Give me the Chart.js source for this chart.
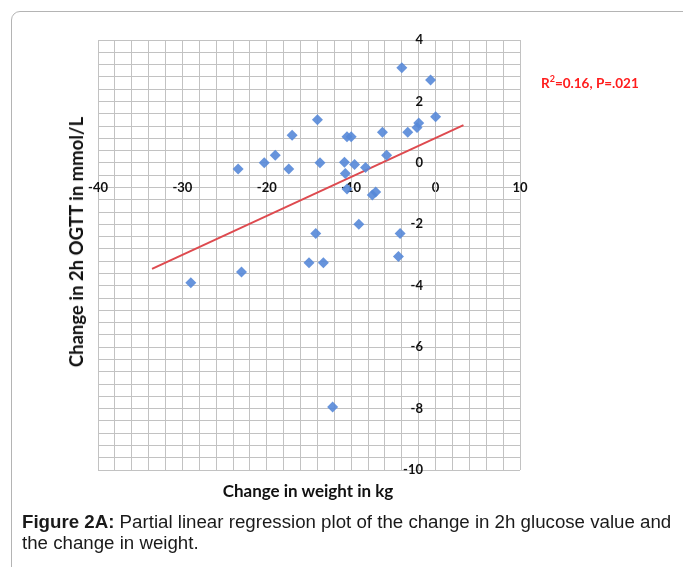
<!DOCTYPE html>
<html lang="en">
<head>
  <meta charset="UTF-8">
  <title>Figure 2A</title>
  <style>
    body { margin: 0; width: 683px; height: 567px; overflow: hidden; background: #fff; position: relative; font-family: "Liberation Sans", Arial, sans-serif; }
    #marco { position: absolute; left: 11px; top: 11px; width: 720px; height: 620px; border: 1px solid #b4b4b4; border-radius: 9px; }
    #lienzo-caja { position: absolute; left: 0; top: 0; width: 683px; height: 567px; }
    .titulo-y { position: absolute; left: 76px; top: 242px; transform: translate(-50%, -50%) rotate(-90deg); white-space: nowrap; font: bold 18.5px Lato, sans-serif; color: #111; }
    .titulo-x { position: absolute; left: 308px; top: 490px; transform: translate(-50%, -50%); white-space: nowrap; font: bold 17px Lato, sans-serif; color: #111; }
    .nota { position: absolute; left: 541px; top: 73px; white-space: nowrap; font: bold 13.5px Lato, sans-serif; color: #ff1c1c; }
    .nota sup { font-size: 9px; }
    .pie { position: absolute; left: 22px; top: 511px; width: 660px; font-size: 18.7px; line-height: 21px; color: #1a1a1a; }
  </style>
</head>
<body>
  <div id="marco"></div>
  <div id="lienzo-caja"><canvas id="grafico"></canvas></div>
  <div class="titulo-y">Change in 2h OGTT in mmol/L</div>
  <div class="titulo-x">Change in weight in kg</div>
  <div class="nota">R<sup>2</sup>=0.16, P=.021</div>
  <div class="pie"><b>Figure 2A:</b> Partial linear regression plot of the change in 2h glucose value and the change in weight.</div>

  <script src="https://cdn.jsdelivr.net/npm/chart.js"></script>
  <script>
    // cambio de peso (kg) y cambio en OGTT 2h (mmol/L)
    const cambioPeso = [-29, -23.4, -23, -20.3, -19, -17.4, -17, -15, -14.2, -14, -13.7, -13.3, -12.2,
      -10.8, -10.7, -10.5, -10.5, -10, -9.6, -9.1, -8.3, -7.5, -7.1, -6.3, -5.8, -4.4, -4.2, -4,
      -3.3, -2.2, -2, -0.6, 0];
    const cambioOGTT = [-3.9, -0.2, -3.55, 0, 0.25, -0.2, 0.9, -3.25, -2.3, 1.4, 0, -3.25, -7.95,
      0.02, -0.35, -0.85, 0.85, 0.85, -0.05, -2.0, -0.15, -1.05, -0.95, 1.0, 0.25, -3.05, -2.3, 3.1,
      1.0, 1.15, 1.3, 2.7, 1.5];

    // extremos de la recta de regresion
    const rectaX = [-33.6, 3.3];
    const rectaY = [-3.45, 1.23];

    // ejes
    const xMin = -40, xMax = 10, xPaso = 2, xEtiqueta = 10;
    const yMin = -10, yMax = 4, yPaso = 0.4, yEtiqueta = 2;

    const puntos = cambioPeso.map((x, i) => ({ x: x, y: cambioOGTT[i] }));
    const recta = rectaX.map((x, i) => ({ x: x, y: rectaY[i] }));

    function cadaN(v, n) {
      const r = v / n;
      return Math.abs(r - Math.round(r)) < 1e-6;
    }

    const gris = '#c2c2c2';
    const fuenteTicks = { family: 'Lato', size: 13, weight: 'bold' };

    new Chart(document.querySelector('#grafico'), {
      type: 'scatter',
      data: {
        datasets: [
          {
            label: 'datos',
            data: puntos,
            pointStyle: 'rectRot',
            pointRadius: 5.5,
            backgroundColor: 'rgba(86,136,216,0.9)',
            borderColor: 'rgba(86,136,216,0.9)',
            borderWidth: 0
          },
          {
            label: 'regresion',
            type: 'line',
            data: recta,
            borderColor: '#de4a4f',
            borderWidth: 2,
            pointRadius: 0,
            fill: false
          }
        ]
      },
      options: {
        responsive: true,
        maintainAspectRatio: false,
        animation: false,
        layout: { padding: { left: 98, right: 163, top: 40, bottom: 97 } },
        plugins: { legend: { display: false }, tooltip: { enabled: false } },
        scales: {
          x: {
            type: 'linear',
            min: xMin, max: xMax,
            position: { y: 0 },
            grid: { color: gris, drawTicks: false },
            border: { color: gris },
            ticks: {
              stepSize: xPaso, autoSkip: false, maxRotation: 0, padding: 17,
              font: fuenteTicks, color: '#111',
              callback: v => cadaN(v, xEtiqueta) ? String(v) : ''
            }
          },
          y: {
            type: 'linear',
            min: yMin, max: yMax,
            position: { x: 0 },
            grid: { color: gris, drawTicks: false },
            border: { color: gris },
            ticks: {
              stepSize: yPaso, autoSkip: false, maxTicksLimit: 100,
              font: fuenteTicks, color: '#111',
              // espacios al final para separar la etiqueta del eje
              callback: v => cadaN(v, yEtiqueta) ? String(Math.round(v)) + '    ' : ''
            }
          }
        }
      }
    });
  </script>
</body>
</html>
